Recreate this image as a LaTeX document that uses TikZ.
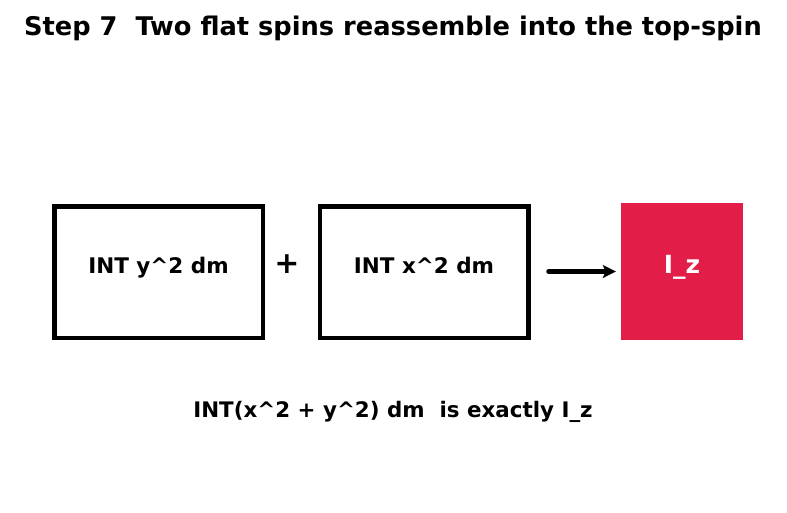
\documentclass[tikz,border=0pt]{standalone}
\usepackage{fontspec}
\setmainfont{DejaVu Sans}
\usetikzlibrary{arrows.meta}
\definecolor{izred}{RGB}{225,29,72}

\begin{document}
\begin{tikzpicture}[x=1pt,y=-1pt,
  termbox/.style={draw, line width=4.5pt, minimum width=208.5pt, minimum height=131.5pt, text depth=14pt, font=\fontsize{21.5}{24}\selectfont\bfseries}]
%% frame
\useasboundingbox (0,0) rectangle (787,512);
\node[font=\fontsize{25.7}{30}\selectfont\bfseries] (title) at (393,28) {Step 7\ \ Two flat spins reassemble into the top-spin};
%% the two flat spins
\node[termbox] (inty) at (158.5,272) {INT y\^{}2 dm};
\node[termbox] (intx) at (424,272) {INT x\^{}2 dm};
\node[font=\fontsize{30}{34}\selectfont\bfseries] (plus) at (287,264) {+};
%% result
\node[fill=izred, minimum width=122pt, minimum height=137pt, text depth=14pt, text=white, font=\fontsize{25}{30}\selectfont\bfseries] (iz) at (682,271.5) {I\_z};
\draw[line width=4.5pt, line cap=round, -{Stealth[length=13pt,width=13pt,inset=3pt]}, shorten <=18pt, shorten >=5pt] (intx.east |- iz.west) -- (iz.west);
\node[font=\fontsize{21.4}{25}\selectfont\bfseries] (sum) at (393,412) {INT(x\^{}2 + y\^{}2) dm\ \ is exactly I\_z};
\end{tikzpicture}
\end{document}
